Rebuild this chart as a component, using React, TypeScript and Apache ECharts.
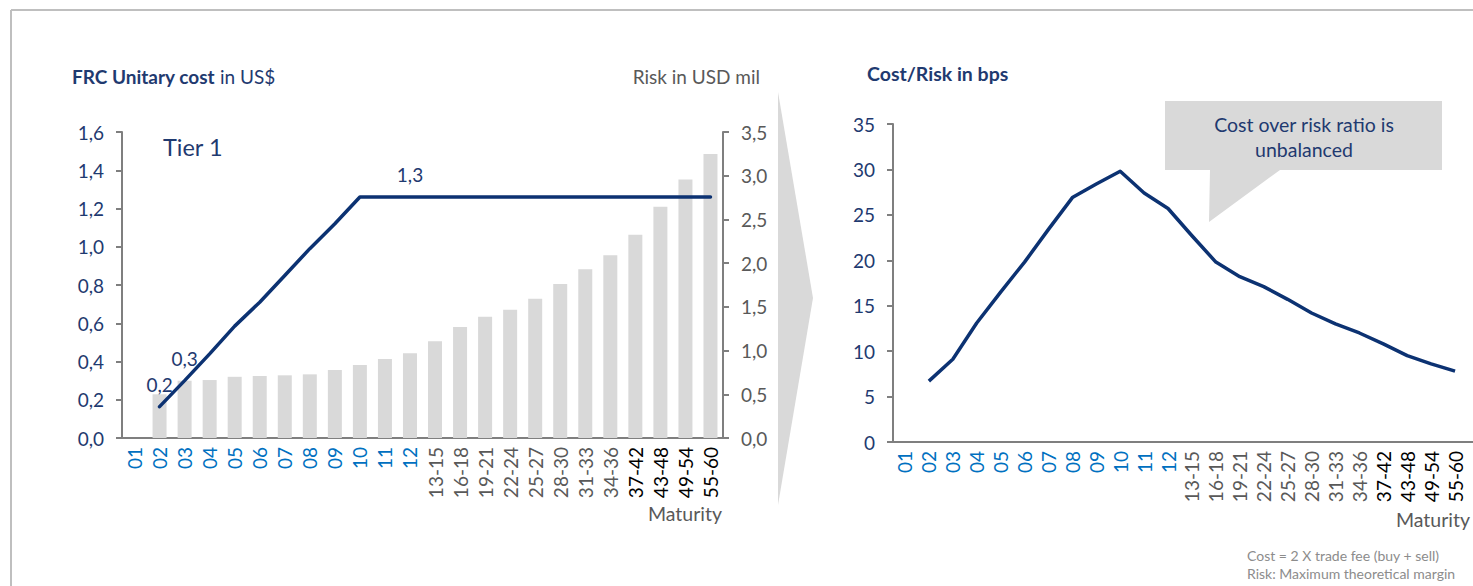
import React, { useEffect, useRef } from "react";
import * as echarts from "echarts";

const categories = ["01","02","03","04","05","06","07","08","09","10","11","12","13-15","16-18","19-21","22-24","25-27","28-30","31-33","34-36","37-42","43-48","49-54","55-60"];
const riskUsdMil = [null,0.5,0.655,0.663,0.7,0.71,0.717,0.728,0.778,0.835,0.904,0.969,1.106,1.27,1.388,1.468,1.594,1.761,1.929,2.09,2.326,2.646,2.958,3.248];
const unitCost = [null,0.164,0.3,0.44,0.585,0.71,0.85,0.99,1.12,1.26,1.26,1.26,1.26,1.26,1.26,1.26,1.26,1.26,1.26,1.26,1.26,1.26,1.26,1.26];
const costRiskBps = [null,6.7,9.1,13.1,16.5,19.8,23.4,26.9,28.4,29.8,27.4,25.7,22.7,19.8,18.2,17.1,15.7,14.2,13.0,12.0,10.8,9.5,8.6,7.8];
const labelledCostIdx = [1, 2, 11];
const leftTicks = { min: 0, max: 1.6, interval: 0.2 };
const rightTicks = { min: 0, max: 3.5, interval: 0.5 };
const ratioTicks = { min: 0, max: 35, interval: 5 };

const FONT = "Lato, 'Open Sans', sans-serif";
const NAVY = "#0c3272";
const TEXT_NAVY = "#1f3a70";
const GRAY_TXT = "#595959";
const AXIS_GRAY = "#7f7f7f";
const FILL_GRAY = "#d9d9d9";

const labelColor = (_v: any, idx: number) => (idx < 12 ? "#0070c0" : idx < 20 ? GRAY_TXT : "#000000");
const comma1 = (v: number) => v.toFixed(1).replace(".", ",");

export default function App() {
  const ref = useRef<HTMLDivElement>(null);
  useEffect(() => {
    document.body.style.margin = "0";
    const chart = echarts.init(ref.current!, null, { renderer: "svg" });
    const xAxisBase = (gridIndex: number) => ({
      type: "category",
      gridIndex,
      data: categories,
      axisLine: { show: true, lineStyle: { color: AXIS_GRAY, width: 2 } },
      axisTick: { show: false },
      axisLabel: { interval: 0, rotate: 90, margin: 9, fontSize: 19, fontFamily: FONT, color: labelColor },
    });
    const valAxis = (gridIndex: number, t: any, color: string, position: string, fmt: any) => ({
      type: "value",
      gridIndex,
      position,
      min: t.min,
      max: t.max,
      interval: t.interval,
      splitLine: { show: false },
      axisLine: { show: true, lineStyle: { color: AXIS_GRAY, width: 2 } },
      axisTick: { show: true, length: 6, lineStyle: { color: AXIS_GRAY, width: 2 } },
      axisLabel: { fontSize: 19, fontFamily: FONT, color, margin: 18, formatter: fmt },
    });
    const costData = unitCost.map((v, i) =>
      labelledCostIdx.includes(i)
        ? { value: v, label: { show: true, position: "top", distance: 13, formatter: (p: any) => comma1(p.value), fontSize: 19, fontFamily: FONT, color: TEXT_NAVY } }
        : v
    );
    chart.setOption({
      animation: false,
      grid: [
        { left: 122, top: 132, width: 601, height: 306 },
        { left: 893, top: 124, width: 574, height: 318 },
      ],
      xAxis: [xAxisBase(0), xAxisBase(1)],
      yAxis: [
        valAxis(0, leftTicks, TEXT_NAVY, "left", comma1),
        valAxis(0, rightTicks, GRAY_TXT, "right", comma1),
        valAxis(1, ratioTicks, TEXT_NAVY, "left", (v: number) => String(v)),
      ],
      series: [
        { type: "bar", xAxisIndex: 0, yAxisIndex: 1, data: riskUsdMil, barWidth: 14, itemStyle: { color: FILL_GRAY } },
        {
          type: "line", xAxisIndex: 0, yAxisIndex: 0, data: costData, showSymbol: true, symbolSize: 0,
          lineStyle: { color: NAVY, width: 3.5, cap: "round" }, itemStyle: { color: NAVY }, z: 5,
        },
        {
          type: "line", xAxisIndex: 1, yAxisIndex: 2, data: costRiskBps, showSymbol: false,
          lineStyle: { color: NAVY, width: 3.5, join: "round" }, itemStyle: { color: NAVY },
        },
      ],
      graphic: [
        { type: "line", shape: { x1: 11, y1: 10, x2: 1473, y2: 10 }, style: { stroke: "#bfbfbf", lineWidth: 2 } },
        { type: "line", shape: { x1: 11, y1: 10, x2: 11, y2: 586 }, style: { stroke: "#bfbfbf", lineWidth: 2 } },
        { type: "line", shape: { x1: 1466, y1: 442, x2: 1473, y2: 442 }, style: { stroke: AXIS_GRAY, lineWidth: 2 } },
        { type: "polygon", shape: { points: [[778, 92], [813, 298], [778, 505]] }, style: { fill: FILL_GRAY } },
        {
          type: "polygon",
          shape: { points: [[1165, 101], [1442, 101], [1442, 170], [1280, 170], [1209, 222], [1210, 170], [1165, 170]] },
          style: { fill: FILL_GRAY },
        },
        {
          type: "text", x: 1304, y: 137,
          style: { text: "Cost over risk ratio is\nunbalanced", align: "center", verticalAlign: "middle", lineHeight: 25, fill: TEXT_NAVY, fontSize: 19.5, fontFamily: FONT },
        },
        {
          type: "text", x: 72, y: 76,
          style: {
            text: "{b|FRC Unitary cost} in US$", verticalAlign: "middle", fill: TEXT_NAVY, fontSize: 19, fontFamily: FONT,
            rich: { b: { fontWeight: "bold", fontSize: 19, fontFamily: FONT, fill: TEXT_NAVY } },
          },
        },
        { type: "text", x: 760, y: 76, style: { text: "Risk in USD mil", align: "right", verticalAlign: "middle", fill: GRAY_TXT, fontSize: 19, fontFamily: FONT } },
        { type: "text", x: 867, y: 73, style: { text: "Cost/Risk in bps", verticalAlign: "middle", fill: TEXT_NAVY, fontSize: 19.5, fontWeight: "bold", fontFamily: FONT } },
        { type: "text", x: 163, y: 147, style: { text: "Tier 1", verticalAlign: "middle", fill: TEXT_NAVY, fontSize: 23.5, fontFamily: FONT } },
        { type: "text", x: 722, y: 513, style: { text: "Maturity", align: "right", verticalAlign: "middle", fill: GRAY_TXT, fontSize: 19.5, fontFamily: FONT } },
        { type: "text", x: 1470, y: 519, style: { text: "Maturity", align: "right", verticalAlign: "middle", fill: GRAY_TXT, fontSize: 19.5, fontFamily: FONT } },
        { type: "text", x: 1247, y: 555, style: { text: "Cost = 2 X trade fee (buy + sell)", verticalAlign: "middle", fill: "#8c8c8c", fontSize: 14, fontFamily: FONT } },
        { type: "text", x: 1247, y: 573, style: { text: "Risk: Maximum theoretical margin", verticalAlign: "middle", fill: "#8c8c8c", fontSize: 14, fontFamily: FONT } },
      ],
    });
    return () => chart.dispose();
  }, []);
  return <div ref={ref} style={{ width: 1473, height: 586 }} />;
}
